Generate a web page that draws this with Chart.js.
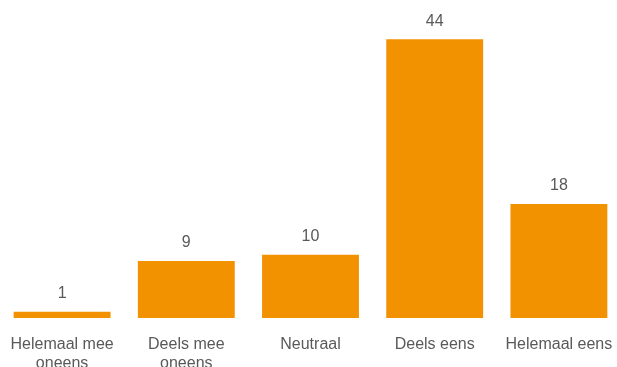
<!DOCTYPE html>
<html lang="nl">
<head>
  <meta charset="UTF-8">
  <title>Stellingen</title>
  <script src="https://cdn.jsdelivr.net/npm/chart.js"></script>
  <style>
    html, body { margin: 0; padding: 0; background: #fff; overflow: hidden; }
    #wrap { width: 621px; height: 367px; position: relative; }
  </style>
</head>
<body>
<div id="wrap">
  <canvas id="barChart"></canvas>
</div>

<script>
  // antwoordcategorieën (tweede regel waar het label afbreekt)
  const categories = [
    ['Helemaal mee', 'oneens'],
    ['Deels mee', 'oneens'],
    'Neutraal',
    'Deels eens',
    'Helemaal eens'
  ];
  const counts = [1, 9, 10, 44, 18];

  const orange = '#F39200';
  const textGrey = '#595959';

  // aantal boven elke staaf
  const valueLabels = {
    id: 'valueLabels',
    afterDatasetsDraw(chart) {
      const ctx = chart.ctx;
      const meta = chart.getDatasetMeta(0);
      ctx.save();
      ctx.font = '16px "Liberation Sans", Arial, sans-serif';
      ctx.fillStyle = textGrey;
      ctx.textAlign = 'center';
      ctx.textBaseline = 'middle';
      meta.data.forEach((bar, i) => {
        ctx.fillText(chart.data.datasets[0].data[i], bar.x, bar.y - 18);
      });
      ctx.restore();
    }
  };

  new Chart(document.getElementById('barChart'), {
    type: 'bar',
    data: {
      labels: categories,
      datasets: [{
        data: counts,
        backgroundColor: orange,
        borderWidth: 0,
        barPercentage: 0.78,
        categoryPercentage: 1
      }]
    },
    options: {
      responsive: true,
      maintainAspectRatio: false,
      animation: false,
      layout: { padding: { top: 14, left: 0, right: 0, bottom: 0 } },
      plugins: {
        legend: { display: false },
        tooltip: { enabled: false }
      },
      scales: {
        x: {
          grid: { display: false, drawTicks: false },
          border: { display: false },
          ticks: {
            color: textGrey,
            padding: 17,
            maxRotation: 0,
            autoSkip: false,
            font: { family: '"Liberation Sans", Arial, sans-serif', size: 16, lineHeight: 1.2 }
          },
          // labels mogen onder de rand doorlopen, geen extra zijmarge
          afterFit(scale) {
            scale.height = 49;
            scale.paddingLeft = 0;
            scale.paddingRight = 0;
          }
        },
        y: {
          display: false,
          min: 0,
          max: 48
        }
      }
    },
    plugins: [valueLabels]
  });
</script>
</body>
</html>
